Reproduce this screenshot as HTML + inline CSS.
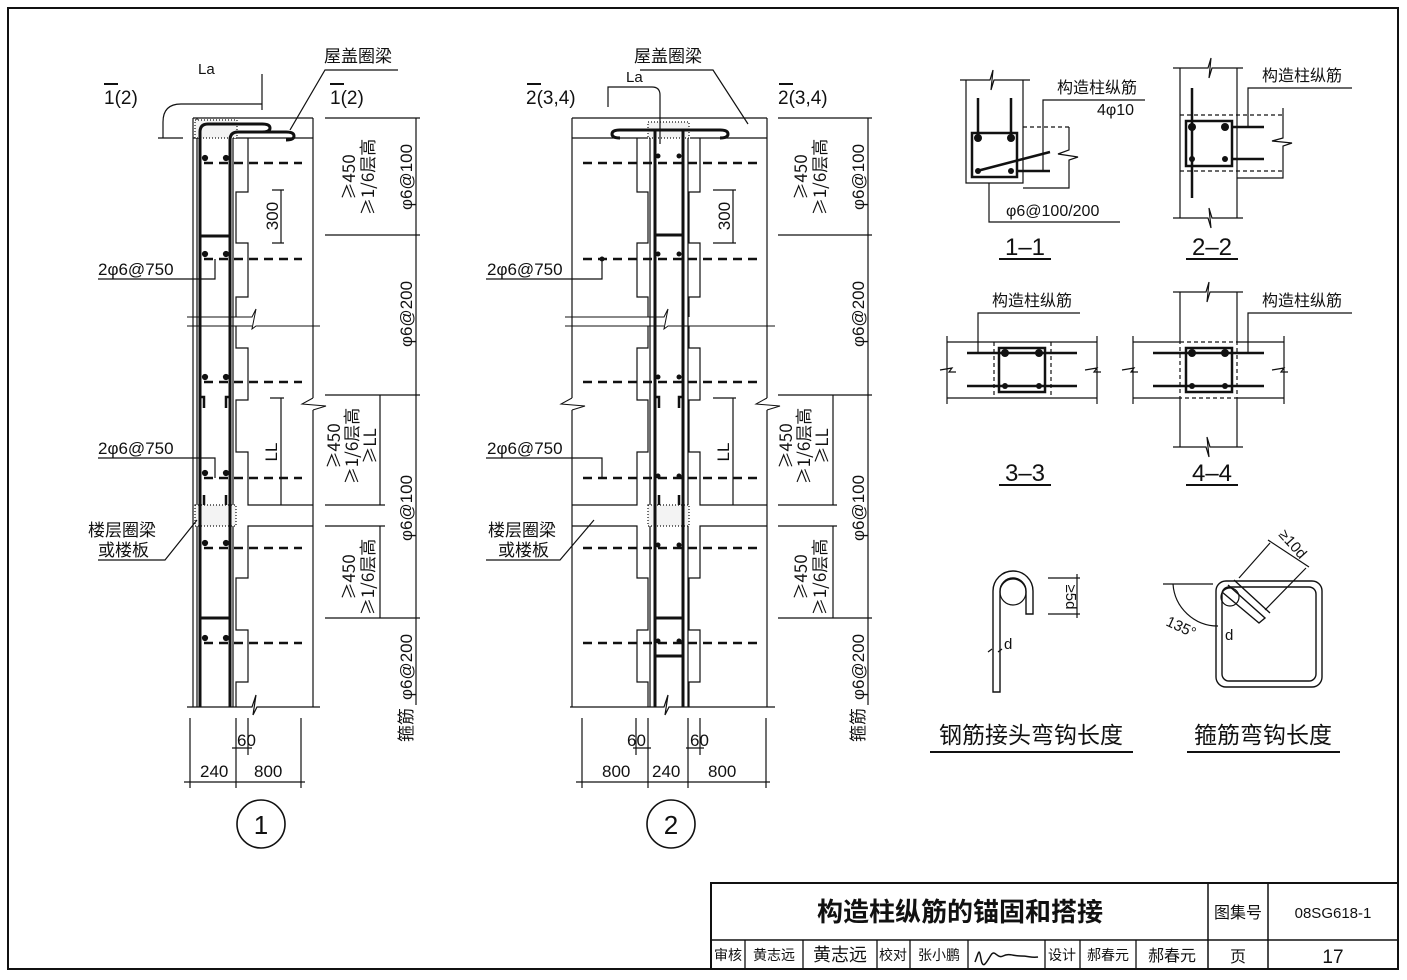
<!DOCTYPE html>
<html><head><meta charset="utf-8"><style>
html,body{margin:0;padding:0;background:#fff}
svg{display:block}
text{font-family:"Liberation Sans","Noto Sans CJK SC",sans-serif;fill:#111}
.cj{font-family:"Noto Sans CJK SC","WenQuanYi Zen Hei",sans-serif}
</style></head><body>
<svg width="1407" height="980" viewBox="0 0 1407 980" xmlns="http://www.w3.org/2000/svg">
<g fill="none" stroke="#111" stroke-width="1.2">
<rect x="8" y="8" width="1390" height="961" stroke-width="2"/>
<rect x="711" y="883" width="687" height="86" stroke-width="2"/>
<line x1="711" y1="940" x2="1398" y2="940" stroke-width="1.5"/>
<line x1="1208" y1="883" x2="1208" y2="969" stroke-width="1.5"/>
<line x1="1268" y1="883" x2="1268" y2="969" stroke-width="1.5"/>
<path d="M745 940V969M803 940V969M877 940V969M910 940V969M968 940V969M1045 940V969M1080 940V969M1136 940V969" stroke-width="1.3"/>

<!-- ========== DIAGRAM 1 ========== -->
<g>
<path d="M193 118V707M197 118V707M313 118V398M313 410V707"/>
<path d="M193 118H313M193 138H200M233 138H313" />
<path d="M313 398L302 404L326 406L313 410" stroke-width="1"/>
<rect x="195" y="120" width="42" height="18" fill="#f3f3f3" stroke-dasharray="1 2"/>
<polyline points="248,138 248,192 236,192 236,243 248,243 248,297 236,297 236,317"/>
<polyline points="236,326 236,348 248,348 248,400 236,400 236,452 248,452 248,505 313,505"/>
<polyline points="313,526 248,526 248,578 236,578 236,630 248,630 248,682 236,682 236,707"/>
<path d="M233 138V707"/>
<rect x="195" y="505" width="41" height="21" fill="#f3f3f3" stroke-dasharray="1 2"/>
<path d="M187 317H252l4 -8 -4 20 4 -3H320M187 326H252M258 326H320" stroke-width="1"/>
<path d="M187 707H252l4 -12 -3 20 4 -8H320"/>
<path d="M200 707V132q0-8 8-8H262q8 0 8 4t-8 4" stroke-width="3"/>
<path d="M230 707V140q0-8 8-8H286q8 0 8 4t-8 4" stroke-width="3"/>
<path d="M200 236H230M200 618H230" stroke-width="3"/>
<path d="M204 408V397H200M226 408V397H230M204 505V495M226 505V495" stroke-width="2.5"/>
<g stroke-dasharray="9 6" stroke-width="2.5">
<path d="M204 163H302M204 259H302M204 382H302M204 478H302M204 548H302M204 643H302"/>
</g>
<path d="M325 118H420M325 235H420M325 395H420M325 505H385M325 526H385M325 618H420"/>
<path d="M416 118V705M380 395V505M380 526V618"/>
<path d="M272 190H284M281 190V243M272 243H284M270 398H284M281 398V505"/>
<path d="M190 718V788M236 718V788M301 718V788M248 718V755M184 782H305M232 748H252"/>
<path d="M163 138V122q0-18 18-18H262M262 74V110M158 138H183"/>
<path d="M290 130L325 70H398"/>
<path d="M98 279H215V259M98 458H215V478M98 560H165L197 520"/>
</g>
<g fill="#111">
<circle cx="205" cy="158" r="2.5"/><circle cx="226" cy="158" r="2.5"/>
<circle cx="205" cy="254" r="2.5"/><circle cx="226" cy="254" r="2.5"/>
<circle cx="205" cy="377" r="2.5"/><circle cx="226" cy="377" r="2.5"/>
<circle cx="205" cy="473" r="2.5"/><circle cx="226" cy="473" r="2.5"/>
<circle cx="205" cy="543" r="2.5"/><circle cx="226" cy="543" r="2.5"/>
<circle cx="205" cy="638" r="2.5"/><circle cx="226" cy="638" r="2.5"/>
</g>
</g>

<!-- ========== DIAGRAM 2 ========== -->
<g fill="none" stroke="#111" stroke-width="1.2">
<path d="M572 118V398M572 410V707M767 118V398M767 410V707"/>
<path d="M572 118H767M572 138H648M690 138H767"/>
<path d="M572 398L561 404L585 406L572 410M767 398L756 404L780 406L767 410" stroke-width="1"/>
<rect x="648" y="122" width="41" height="16" fill="#f3f3f3" stroke-dasharray="1 2"/>
<polyline points="637,138 637,192 648,192 648,243 637,243 637,297 648,297 648,317"/>
<polyline points="648,326 648,348 637,348 637,400 648,400 648,452 637,452 637,505 572,505"/>
<polyline points="572,526 637,526 637,578 648,578 648,630 637,630 637,682 648,682 648,707"/>
<polyline points="700,138 700,192 689,192 689,243 700,243 700,297 689,297 689,317"/>
<polyline points="689,326 689,348 700,348 700,400 689,400 689,452 700,452 700,505 767,505"/>
<polyline points="767,526 700,526 700,578 689,578 689,630 700,630 700,682 689,682 689,707"/>
<path d="M650 138V707M688 138V707"/>
<rect x="648" y="505" width="41" height="21" fill="#f3f3f3" stroke-dasharray="1 2"/>
<path d="M565 317H664l4 -8 -4 20 4 -3H775M565 326H664M670 326H775" stroke-width="1"/>
<path d="M570 707H664l4 -12 -3 20 4 -8H775"/>
<path d="M655 707V130M683 707V130" stroke-width="3"/>
<path d="M620 130H720M620 130q-8 0-8 4t8 4M720 130q8 0 8 4t-8 4" stroke-width="3"/>
<path d="M655 235H683M655 618H683M655 656H683" stroke-width="3"/>
<path d="M659 408V397H655M679 408V397H683M659 505V495M679 505V495" stroke-width="2.5"/>
<g stroke-dasharray="9 6" stroke-width="2.5">
<path d="M583 163H757M583 259H757M583 382H757M583 478H757M583 548H757M583 643H757"/>
</g>
<path d="M778 118H872M778 235H872M778 395H872M778 505H837M778 526H837M778 618H872"/>
<path d="M868 118V705M833 395V505M833 526V618"/>
<path d="M713 190H736M733 190V243M713 243H736M713 398H736M733 398V505"/>
<path d="M582 718V788M648 718V788M688 718V788M766 718V788M636 718V755M700 718V755M576 782H770M633 748H651M686 748H704"/>
<path d="M608 107V87H652q8 0 8 8V144"/>
<path d="M748 124L713 70H640"/>
<path d="M486 279H602V259M486 458H602V478M486 560H560L594 520"/>
</g>
<g fill="#111">
<circle cx="658" cy="156" r="2.5"/><circle cx="679" cy="156" r="2.5"/>
<circle cx="658" cy="254" r="2.5"/><circle cx="679" cy="254" r="2.5"/>
<circle cx="658" cy="377" r="2.5"/><circle cx="679" cy="377" r="2.5"/>
<circle cx="658" cy="476" r="2.5"/><circle cx="679" cy="476" r="2.5"/>
<circle cx="658" cy="545" r="2.5"/><circle cx="679" cy="545" r="2.5"/>
<circle cx="658" cy="641" r="2.5"/><circle cx="679" cy="641" r="2.5"/>
<circle cx="602" cy="259" r="2.5"/>
</g>

<g fill="none" stroke="#111" stroke-width="1.6">
<circle cx="261" cy="824" r="24"/><circle cx="671" cy="824" r="24"/>
</g>

<!-- ========== SECTIONS ========== -->
<g fill="none" stroke="#111" stroke-width="1.2">
<path d="M960 80H990l3 -10 -2 20 3 -10H1030M966 80V183H1023V80M1023 188H1069V160L1078 157L1058 154L1069 150V127" />
<path d="M1023 127H1069" stroke-dasharray="4 3"/>
<rect x="972" y="133" width="45" height="44" stroke-width="2.5"/>
<path d="M978 98V137M1011 98V137M977 171L1050 152M1018 171H1050" stroke-width="2.5"/>
<path d="M1043 172V100H1145M989 183V222H1120"/>
<path d="M999 259H1051M1186 259H1238M999 485H1051M1186 485H1238" stroke-width="2"/>
<path d="M1173 68H1208l3-10-2 20 3-10H1243M1180 68V218M1237 68V218M1173 218H1208l3 10-2-20 3 10H1243M1237 178H1283V146L1292 143L1272 141L1283 138V108"/>
<path d="M1180 115H1283M1180 171H1283" stroke-dasharray="4 3"/>
<rect x="1186" y="121" width="46" height="45" stroke-width="2.5"/>
<path d="M1192 88V198M1232 127H1264M1232 159H1264" stroke-width="2.5"/>
<path d="M1248 127V88H1352"/>
<path d="M947 342H1097M947 398H1097M947 336V404M1097 336V404M940 370l12-2-3 4 7 0M1085 370l12-2-3 4 7 0"/>
<path d="M994 342V398M1051 342V398" stroke-dasharray="4 3"/>
<rect x="999" y="348" width="46" height="44" stroke-width="2.5"/>
<path d="M967 353H1077M967 386H1077" stroke-width="2.5"/>
<path d="M978 353V313H1080"/>
<path d="M1133 342H1180M1237 342H1284M1133 398H1180M1237 398H1284M1133 336V404M1284 336V404M1180 292V342M1237 292V342M1180 398V447M1237 398V447M1173 292H1206l3-10-2 20 3-10H1243M1173 447H1206l3 10-2-20 3 10H1243M1122 370l12-2-3 4 7 0M1272 370l12-2-3 4 7 0"/>
<rect x="1180" y="342" width="57" height="56" stroke-dasharray="4 3"/>
<rect x="1186" y="348" width="46" height="44" stroke-width="2.5"/>
<path d="M1153 353H1264M1153 386H1264" stroke-width="2.5"/>
<path d="M1248 353V313H1352"/>
<path d="M993 692V591a20 20 0 0 1 40 0V614H1026V591a13 13 0 0 0 -26 0V692Z" stroke-width="1.4"/>
<circle cx="1013" cy="592" r="13"/>
<path d="M1048 578H1080M1048 614H1080M1077 574V618M988 652l4-3M998 652l4-3" />
<rect x="1216" y="581" width="106" height="106" rx="10" stroke-width="1.4"/>
<rect x="1222" y="587" width="94" height="94" rx="7" stroke-width="1.4"/>
<circle cx="1230" cy="597" r="9"/>
<path d="M1228 585L1265 618L1259 623L1222 592M1234 580L1270 613" stroke-width="1.4"/>
<path d="M1163 584H1213M1173 584a45 45 0 0 0 45 42M1239 578L1270 543M1265 610L1306 568M1268 540L1309 567"/>
<path d="M930 752H1133M1187 752H1340" stroke-width="2"/>
</g>
<g fill="#111">
<circle cx="978" cy="138" r="4"/><circle cx="1011" cy="138" r="4"/><circle cx="978" cy="171" r="3"/><circle cx="1011" cy="171" r="3"/>
<circle cx="1192" cy="127" r="4"/><circle cx="1225" cy="127" r="4"/><circle cx="1192" cy="159" r="3"/><circle cx="1225" cy="159" r="3"/>
<circle cx="1005" cy="353" r="4"/><circle cx="1039" cy="353" r="4"/><circle cx="1005" cy="386" r="3"/><circle cx="1039" cy="386" r="3"/>
<circle cx="1192" cy="353" r="4"/><circle cx="1225" cy="353" r="4"/><circle cx="1192" cy="386" r="3"/><circle cx="1225" cy="386" r="3"/>
</g>

<!-- ========== TEXT ========== -->
<g font-size="17">
<text x="324" y="62" class="cj">屋盖圈梁</text>
<text x="634" y="62" class="cj">屋盖圈梁</text>
<text x="198" y="74" font-size="15">La</text>
<text x="626" y="82" font-size="15">La</text>
<text x="104" y="104" font-size="19">1(2)</text><path d="M104 84H118" stroke="#111" stroke-width="2"/>
<text x="330" y="104" font-size="19">1(2)</text><path d="M330 84H344" stroke="#111" stroke-width="2"/>
<text x="526" y="104" font-size="19">2(3,4)</text><path d="M527 84H541" stroke="#111" stroke-width="2"/>
<text x="778" y="104" font-size="19">2(3,4)</text><path d="M779 84H793" stroke="#111" stroke-width="2"/>
<text x="98" y="275">2φ6@750</text>
<text x="98" y="454">2φ6@750</text>
<text x="487" y="275">2φ6@750</text>
<text x="487" y="454">2φ6@750</text>
<text x="88" y="536" class="cj">楼层圈梁</text>
<text x="98" y="556" class="cj">或楼板</text>
<text x="488" y="536" class="cj">楼层圈梁</text>
<text x="498" y="556" class="cj">或楼板</text>
<text x="200" y="777">240</text><text x="254" y="777">800</text><text x="237" y="746">60</text>
<text x="602" y="777">800</text><text x="652" y="777">240</text><text x="708" y="777">800</text><text x="627" y="746">60</text><text x="690" y="746">60</text>
<text x="261" y="834" font-size="26" text-anchor="middle">1</text>
<text x="671" y="834" font-size="26" text-anchor="middle">2</text>

<text transform="translate(278,216) rotate(-90)" text-anchor="middle">300</text>
<text transform="translate(277,452) rotate(-90)" text-anchor="middle">LL</text>
<text transform="translate(355,177) rotate(-90)" text-anchor="middle" class="cj">≥450</text>
<text transform="translate(374,177) rotate(-90)" text-anchor="middle" class="cj">≥1/6层高</text>
<text transform="translate(412,177) rotate(-90)" text-anchor="middle">φ6@100</text>
<text transform="translate(412,314) rotate(-90)" text-anchor="middle">φ6@200</text>
<text transform="translate(340,446) rotate(-90)" text-anchor="middle" class="cj">≥450</text>
<text transform="translate(358,446) rotate(-90)" text-anchor="middle" class="cj">≥1/6层高</text>
<text transform="translate(376,446) rotate(-90)" text-anchor="middle" class="cj">≥LL</text>
<text transform="translate(412,508) rotate(-90)" text-anchor="middle">φ6@100</text>
<text transform="translate(355,577) rotate(-90)" text-anchor="middle" class="cj">≥450</text>
<text transform="translate(374,577) rotate(-90)" text-anchor="middle" class="cj">≥1/6层高</text>
<text transform="translate(412,667) rotate(-90)" text-anchor="middle">φ6@200</text>
<text transform="translate(412,725) rotate(-90)" text-anchor="middle" class="cj">箍筋</text>
<text transform="translate(730,216) rotate(-90)" text-anchor="middle">300</text>
<text transform="translate(729,452) rotate(-90)" text-anchor="middle">LL</text>
<text transform="translate(807,177) rotate(-90)" text-anchor="middle" class="cj">≥450</text>
<text transform="translate(826,177) rotate(-90)" text-anchor="middle" class="cj">≥1/6层高</text>
<text transform="translate(864,177) rotate(-90)" text-anchor="middle">φ6@100</text>
<text transform="translate(864,314) rotate(-90)" text-anchor="middle">φ6@200</text>
<text transform="translate(792,446) rotate(-90)" text-anchor="middle" class="cj">≥450</text>
<text transform="translate(810,446) rotate(-90)" text-anchor="middle" class="cj">≥1/6层高</text>
<text transform="translate(828,446) rotate(-90)" text-anchor="middle" class="cj">≥LL</text>
<text transform="translate(864,508) rotate(-90)" text-anchor="middle">φ6@100</text>
<text transform="translate(807,577) rotate(-90)" text-anchor="middle" class="cj">≥450</text>
<text transform="translate(826,577) rotate(-90)" text-anchor="middle" class="cj">≥1/6层高</text>
<text transform="translate(864,667) rotate(-90)" text-anchor="middle">φ6@200</text>
<text transform="translate(864,725) rotate(-90)" text-anchor="middle" class="cj">箍筋</text>

<text x="1057" y="93" font-size="16" class="cj">构造柱纵筋</text>
<text x="1097" y="115" font-size="16">4φ10</text>
<text x="1006" y="216" font-size="16">φ6@100/200</text>
<text x="1262" y="81" font-size="16" class="cj">构造柱纵筋</text>
<text x="992" y="306" font-size="16" class="cj">构造柱纵筋</text>
<text x="1262" y="306" font-size="16" class="cj">构造柱纵筋</text>
<text x="1025" y="255" font-size="24" text-anchor="middle">1–1</text>
<text x="1212" y="255" font-size="24" text-anchor="middle">2–2</text>
<text x="1025" y="481" font-size="24" text-anchor="middle">3–3</text>
<text x="1212" y="481" font-size="24" text-anchor="middle">4–4</text>
<text transform="translate(1066,597) rotate(90)" text-anchor="middle" font-size="15">≥5d</text>
<text x="1004" y="649" font-size="15">d</text>
<text x="1225" y="640" font-size="15">d</text>
<text transform="translate(1165,625) rotate(25)" font-size="15">135°</text>
<text transform="translate(1278,535) rotate(48)" font-size="15">≥10d</text>
<text x="1031" y="743" font-size="23" text-anchor="middle" class="cj">钢筋接头弯钩长度</text>
<text x="1263" y="743" font-size="23" text-anchor="middle" class="cj">箍筋弯钩长度</text>

<text x="960" y="921" font-size="26" text-anchor="middle" class="cj" font-weight="bold">构造柱纵筋的锚固和搭接</text>
<text x="1238" y="918" font-size="16" text-anchor="middle" class="cj">图集号</text>
<text x="1333" y="918" font-size="15" text-anchor="middle" font-family="Liberation Serif">08SG618-1</text>
<g font-size="14" class="cj" text-anchor="middle">
<text x="728" y="960" class="cj">审核</text>
<text x="774" y="960" class="cj">黄志远</text>
<text x="840" y="961" class="cj" font-size="18">黄志远</text>
<text x="893" y="960" class="cj">校对</text>
<text x="939" y="960" class="cj">张小鹏</text>
<text x="1062" y="960" class="cj">设计</text>
<text x="1108" y="960" class="cj">郝春元</text>
<text x="1172" y="961" class="cj" font-size="16">郝春元</text>
<text x="1238" y="962" class="cj" font-size="16">页</text>
<text x="1333" y="963" font-size="19" font-family="Liberation Sans">17</text>
</g>
<path d="M975 962c4-10 4-15 6-3s6 2 10-4 6 4 12 1 10 0 18 0 10 2 17 1" fill="none" stroke="#111" stroke-width="1.5"/>
</g>
</svg>
</body></html>
